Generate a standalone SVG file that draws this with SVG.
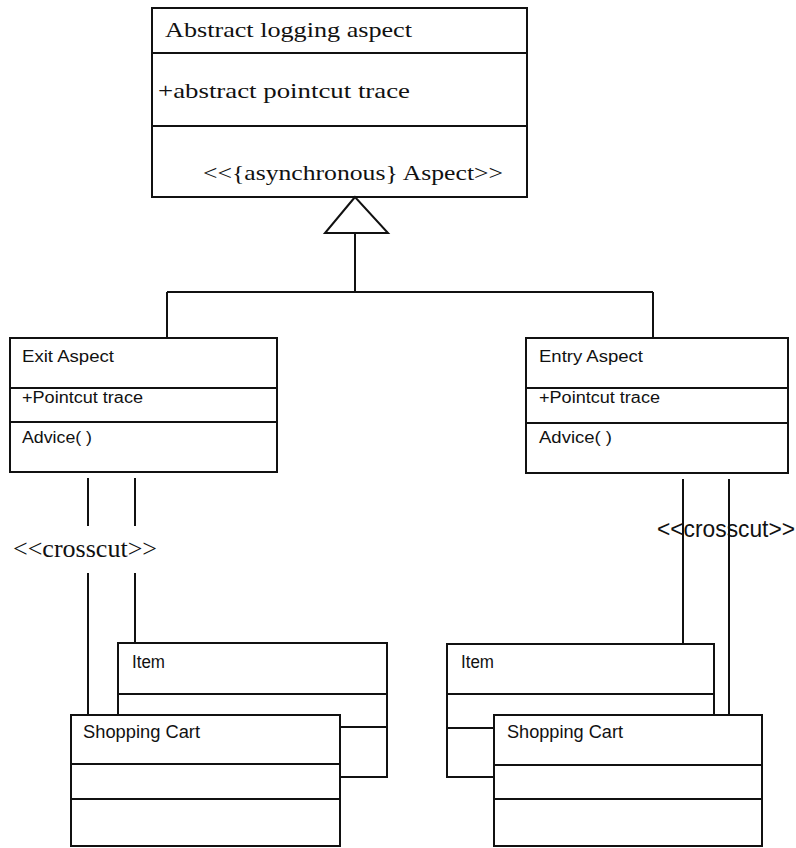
<svg xmlns="http://www.w3.org/2000/svg" width="796" height="848" viewBox="0 0 796 848">
  <style>
    .box { fill: #fff; stroke: #111; stroke-width: 2; }
    .div { stroke: #111; stroke-width: 2; fill: none; }
    .line { stroke: #111; stroke-width: 2; fill: none; }
    .serif { font-family: "Liberation Serif", "Times New Roman", serif; fill: #111; }
    .sans { font-family: "Liberation Sans", Arial, sans-serif; fill: #111; }
    .t20 { font-size: 21px; }
    .t16 { font-size: 16px; }
    .t17 { font-size: 17.5px; }
  </style>
  <rect width="796" height="848" fill="#fff"/>

  <!-- abstract aspect class -->
  <g id="abstract-logging-aspect">
    <rect class="box" x="152" y="8" width="375" height="189"/>
    <line class="div" x1="152" y1="53" x2="527" y2="53"/>
    <line class="div" x1="152" y1="126" x2="527" y2="126"/>
    <text class="serif t20" x="165" y="37" textLength="247" lengthAdjust="spacingAndGlyphs">Abstract logging aspect</text>
    <text class="serif t20" x="158" y="98" textLength="252" lengthAdjust="spacingAndGlyphs">+abstract pointcut trace</text>
    <text class="serif t20" x="203" y="180" textLength="300" lengthAdjust="spacingAndGlyphs">&lt;&lt;{asynchronous} Aspect&gt;&gt;</text>
  </g>

  <g id="exit-aspect">
    <rect class="box" x="10" y="338" width="267" height="134"/>
    <line class="div" x1="10" y1="388" x2="277" y2="388"/>
    <line class="div" x1="10" y1="422" x2="277" y2="422"/>
    <text class="sans t16" x="22" y="362" textLength="92" lengthAdjust="spacingAndGlyphs">Exit Aspect</text>
    <text class="sans t16" x="22" y="403" textLength="121" lengthAdjust="spacingAndGlyphs">+Pointcut trace</text>
    <text class="sans t16" x="22" y="443" textLength="70" lengthAdjust="spacingAndGlyphs">Advice( )</text>
  </g>

  <g id="entry-aspect">
    <rect class="box" x="526" y="338" width="262" height="135"/>
    <line class="div" x1="526" y1="388" x2="788" y2="388"/>
    <line class="div" x1="526" y1="423" x2="788" y2="423"/>
    <text class="sans t16" x="539" y="362" textLength="104" lengthAdjust="spacingAndGlyphs">Entry Aspect</text>
    <text class="sans t16" x="539" y="403" textLength="121" lengthAdjust="spacingAndGlyphs">+Pointcut trace</text>
    <text class="sans t16" x="539" y="443" textLength="73" lengthAdjust="spacingAndGlyphs">Advice( )</text>
  </g>

  <g id="item-left">
    <rect class="box" x="118" y="643" width="269" height="134"/>
    <line class="div" x1="118" y1="694" x2="387" y2="694"/>
    <line class="div" x1="118" y1="727" x2="387" y2="727"/>
    <text class="sans t17" x="132" y="668" textLength="33" lengthAdjust="spacingAndGlyphs">Item</text>
  </g>

  <g id="shopping-cart-left">
    <rect class="box" x="71" y="715" width="269" height="131"/>
    <line class="div" x1="71" y1="764" x2="340" y2="764"/>
    <line class="div" x1="71" y1="799" x2="340" y2="799"/>
    <text class="sans t17" x="83" y="738" textLength="117" lengthAdjust="spacingAndGlyphs">Shopping Cart</text>
  </g>

  <g id="item-right">
    <rect class="box" x="447" y="644" width="267" height="133"/>
    <line class="div" x1="447" y1="694" x2="714" y2="694"/>
    <line class="div" x1="447" y1="728" x2="714" y2="728"/>
    <text class="sans t17" x="461" y="668" textLength="33" lengthAdjust="spacingAndGlyphs">Item</text>
  </g>

  <g id="shopping-cart-right">
    <rect class="box" x="494" y="715" width="268" height="131"/>
    <line class="div" x1="494" y1="765" x2="762" y2="765"/>
    <line class="div" x1="494" y1="799" x2="762" y2="799"/>
    <text class="sans t17" x="507" y="738" textLength="116" lengthAdjust="spacingAndGlyphs">Shopping Cart</text>
  </g>

  <!-- connectors -->
  <g id="connectors">
    <!-- generalization tree -->
    <polygon class="box" points="355,197 325,233 388,233"/>
    <path class="line" d="M355 233 V292 M167 292 H653 M167 292 V338 M653 292 V338"/>
    <!-- crosscut from exit aspect -->
    <path class="line" d="M88 478 V526 M135 478 V526 M88 573 V715 M135 573 V643"/>
    <text class="serif" x="13" y="557" font-size="26" textLength="144" lengthAdjust="spacingAndGlyphs">&lt;&lt;crosscut&gt;&gt;</text>
    <!-- crosscut from entry aspect -->
    <path class="line" d="M683 479 V644 M729 479 V715"/>
    <text class="sans" x="657" y="537" font-size="23" textLength="138" lengthAdjust="spacingAndGlyphs">&lt;&lt;crosscut&gt;&gt;</text>
  </g>
</svg>
